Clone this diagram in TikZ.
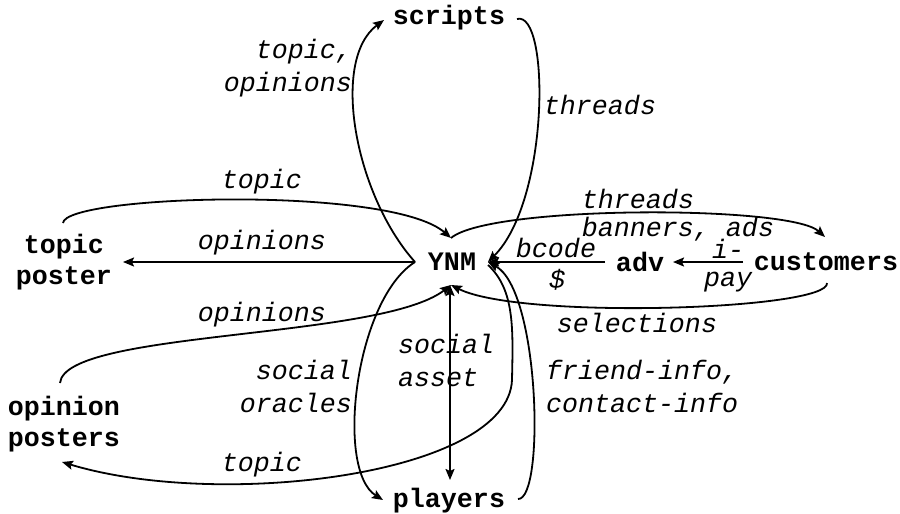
\documentclass[tikz,border=0pt]{standalone}
\usepackage{fontspec}
\setmainfont{Liberation Mono}
\usetikzlibrary{arrows.meta}
\begin{document}
\begin{tikzpicture}[x=1pt,y=-1pt,
  ent/.style={font=\fontsize{26.67pt}{31pt}\selectfont\bfseries, align=center, inner sep=0pt},
  lbl/.style={font=\fontsize{26.67pt}{33pt}\selectfont\itshape, inner sep=0pt},
  tip/.tip={Stealth[length=11pt,width=9pt,inset=2pt]},
  ln/.style={line width=1.8pt},
  arr/.style={ln,-tip},
  darr/.style={ln,tip-tip}]
\useasboundingbox (0,0) rectangle (900,514);
% entities
\node[ent] (Y) at (452,262) {YNM};
\node[ent] (S) at (449,18) {scripts};
\node[ent] (P) at (449,501) {players};
\node[ent] (TP) at (64,262) {topic\\poster};
\node[ent] (OP) at (64,424) {opinion\\posters};
\node[ent] (A) at (640,262) {adv};
\node[ent] (C) at (826,262) {customers};
% connectors
\draw[arr] ([shift={(-37,0)}]Y.center) .. controls (355,195) and (330,60) .. ([shift={(-65,2)}]S.center);
\draw[arr] ([shift={(68,1)}]S.center) .. controls (550,10) and (550,200) .. ([shift={(36,0)}]Y.center);
\draw[arr] ([shift={(-1,-39)}]TP.center) .. controls (65,195) and (390,185) .. ([shift={(-1,-24)}]Y.center);
\draw[arr] ([shift={(-37,0)}]Y.center) -- ([shift={(59,0)}]TP.center);
\draw[arr] ([shift={(-4,-41)}]OP.center) .. controls (65,330) and (380,340) .. ([shift={(-1,23)}]Y.center);
\draw[arr] ([shift={(36,3)}]Y.center) .. controls (515,290) and (513,330) .. (512,380) .. controls (508,475) and (220,510) .. ([shift={(-2,38)}]OP.center);
\draw[arr] ([shift={(-37,0)}]Y.center) .. controls (355,300) and (335,470) .. ([shift={(-66,-1)}]P.center);
\draw[arr] ([shift={(69,-2)}]P.center) .. controls (545,500) and (540,290) .. ([shift={(36,0)}]Y.center);
\draw[darr] ([shift={(-2,23)}]Y.center) -- ([shift={(1,-21)}]P.center);
\draw[arr] ([shift={(-1,-24)}]Y.center) .. controls (490,205) and (790,205) .. ([shift={(-1,-25)}]C.center);
\draw[arr] ([shift={(1,21)}]C.center) .. controls (830,310) and (520,320) .. ([shift={(-1,23)}]Y.center);
\draw[arr] ([shift={(-83,0)}]C.center) -- ([shift={(33,0)}]A.center);
\draw[arr] ([shift={(-35,0)}]A.center) -- ([shift={(36,0)}]Y.center);
% labels
\node[lbl, align=right, anchor=east] (l1) at (352,68) {topic,\\opinions};
\node[lbl] (l2) at (600,105) {threads};
\node[lbl] (l3) at (262,182) {topic};
\node[lbl] (l4) at (262,243) {opinions};
\node[lbl] (l5) at (262,315) {opinions};
\node[lbl] (l6) at (262,465) {topic};
\node[lbl, align=right, anchor=east] (l7) at (352,386) {social\\oracles};
\node[lbl, align=left, anchor=west] (l8) at (398,360) {social\\asset};
\node[lbl, align=left, anchor=west] (l9) at (546,386) {friend-info,\\contact-info};
\node[lbl] (l10) at (638,199) {threads};
\node[lbl] (l11) at (678,229) {banners, ads};
\node[lbl] (l12) at (556,248) {bcode};
\node[lbl] (l13) at (557,280) {\$};
\node[lbl] (l14) at (728,249) {i-};
\node[lbl] (l15) at (728,282) {pay};
\node[lbl] (l16) at (637,323) {selections};
\end{tikzpicture}
\end{document}
